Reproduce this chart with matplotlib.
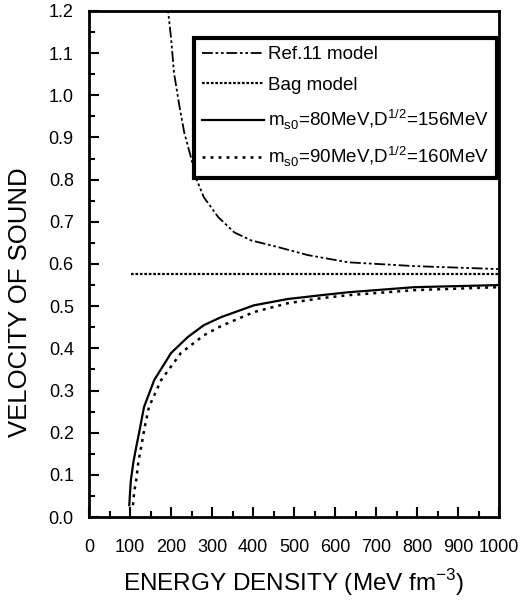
import numpy as np
import matplotlib.pyplot as plt

plt.rcParams['font.family'] = ['Liberation Sans', 'DejaVu Sans']
plt.rcParams['mathtext.fontset'] = 'custom'
plt.rcParams['mathtext.rm'] = 'Liberation Sans'

# values
e_ref = [191, 193, 200, 207, 220, 232, 249, 261, 280, 315, 354, 395, 461, 534, 632, 793, 998]
v_ref = [1.22, 1.197, 1.135, 1.054, 0.976, 0.912, 0.851, 0.803, 0.758, 0.711, 0.675, 0.656, 0.64, 0.621, 0.604, 0.595, 0.588]

e_bag = [102, 1000]
v_bag = [0.5774, 0.5774]

e_80 = [98, 100, 102, 108, 115, 123, 134, 159, 200, 241, 280, 322, 402, 485, 566, 632, 793, 998]
v_80 = [0.028, 0.06, 0.088, 0.13, 0.166, 0.205, 0.261, 0.325, 0.389, 0.427, 0.455, 0.474, 0.502, 0.517, 0.526, 0.533, 0.545, 0.55]

e_90 = [107, 110, 115, 120, 127, 135, 146, 176, 224, 280, 322, 402, 485, 566, 632, 793, 998]
v_90 = [0.028, 0.06, 0.088, 0.13, 0.166, 0.21, 0.261, 0.325, 0.389, 0.431, 0.453, 0.486, 0.507, 0.519, 0.526, 0.538, 0.545]

fig = plt.figure(figsize=(5.21, 6.03), dpi=100)
ax = fig.add_axes([0.171, 0.1426, 0.787, 0.8392])

ax.plot(e_ref, v_ref, color='black', lw=1.3, ls=(0, (6, 1.5, 1.5, 1.5, 1.5, 1.5)), label='Ref.11 model')
ax.plot(e_bag, v_bag, color='black', lw=1.6, ls=(0, (1.2, 0.8)), label='Bag model')
ax.plot(e_80, v_80, color='black', lw=1.6, ls='-', label=r'm$_{\rm s0}$=80MeV,D$^{1/2}$=156MeV')
ax.plot(e_90, v_90, color='black', lw=1.8, ls=(0, (1.2, 2.0)), label=r'm$_{\rm s0}$=90MeV,D$^{1/2}$=160MeV')

ax.set_xlim(0, 1000)
ax.set_ylim(0, 1.2)
ax.set_xticks(np.arange(0, 1001, 100))
ax.set_xticks(np.arange(50, 1000, 100), minor=True)
ax.set_yticks(np.arange(0, 1.21, 0.1))
ax.set_yticks(np.arange(0.05, 1.2, 0.1), minor=True)
ax.set_yticklabels([f'{v:.1f}' for v in np.arange(0, 1.21, 0.1)])
ax.tick_params(which='both', direction='in', width=1.5, labelsize=13, top=False, right=False)
ax.tick_params(which='major', length=7)
ax.tick_params(which='minor', length=4)
ax.tick_params(axis='x', which='major', pad=16)
ax.tick_params(axis='y', which='major', pad=11)
for s in ax.spines.values():
    s.set_linewidth(2)

ax.set_xlabel(r'ENERGY DENSITY (MeV fm$^{-3}$)', fontsize=17.5, labelpad=8)
ax.set_ylabel('VELOCITY OF SOUND', fontsize=18.5)
ax.yaxis.set_label_coords(-0.139, 0.425)

leg = ax.legend(loc='upper right', bbox_to_anchor=(0.995, 0.947), fontsize=13.5,
                frameon=True, fancybox=False, edgecolor='black', framealpha=1,
                handlelength=3.3, handletextpad=0.2, labelspacing=0.72, borderpad=0.45,
                borderaxespad=0)
leg.get_frame().set_linewidth(3)

fig.savefig('out.png', dpi=100)
